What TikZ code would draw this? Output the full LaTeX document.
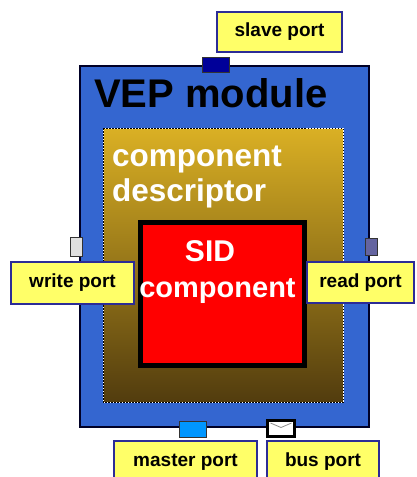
\documentclass[tikz,border=0pt]{standalone}
\usepackage{fontspec}
\setmainfont{Liberation Sans}
\usetikzlibrary{positioning}

\definecolor{modblue}{RGB}{52,102,208}
\definecolor{descgold}{RGB}{218,176,36}
\definecolor{descmid}{RGB}{192,150,30}
\definecolor{descdark}{RGB}{82,60,14}
\definecolor{labyellow}{RGB}{255,255,104}
\definecolor{labline}{RGB}{44,44,150}

\begin{document}
\begin{tikzpicture}[x=1pt, y=-1pt,
    box/.style = {rectangle, inner sep=0pt, outer sep=0pt},
    modbox/.style = {box, fill=modblue, draw=black!85!blue, line width=1.4pt},
    descbox/.style = {box, top color=descgold, middle color=descmid, bottom color=descdark, draw=white, line width=1pt},
    sidbox/.style = {box, fill=red, draw=black, line width=5pt},
    port/.style = {box, draw=black!80, line width=1pt},
    portlabel/.style = {box, fill=labyellow, draw=labline, line width=1.2pt,
        font=\fontsize{19}{21}\selectfont\bfseries},
    bigtext/.style = {inner sep=0pt, font=\fontsize{30}{34}\selectfont\bfseries, text=white}]
\useasboundingbox (0,0) rectangle (417,477);

% module with the descriptor and the component inside
\node (module) [modbox, minimum width=289pt, minimum height=361pt] at (224.5,246.5) {};
\node (desc) [descbox, minimum width=240pt, minimum height=274pt] at (223,265) {};
\draw [black, line width=1pt, dash pattern=on 1.5pt off 1.5pt] (desc.north west) rectangle (desc.south east);
\node (sid) [sidbox, minimum width=164pt, minimum height=143pt] at (222.5,294) {};

\node (modname) [inner sep=0pt, anchor=base west, font=\fontsize{40}{44}\selectfont\bfseries] at (94,107) {VEP module};
\node (desc1) [bigtext, anchor=base west, font=\fontsize{31.5}{34}\selectfont\bfseries] at (112,166) {component};
\node (desc2) [bigtext, anchor=base west, font=\fontsize{31.5}{34}\selectfont\bfseries] at (112,201) {descriptor};
\node (sid1) [bigtext, anchor=base] at (210,261) {SID};
\node (sid2) [bigtext, anchor=base, font=\fontsize{29}{32}\selectfont\bfseries] at (217.5,297) {component};

% ports on the module border
\node (slaveport) [port, fill=blue!60!black, minimum width=27pt, minimum height=15pt] at (215.5,64.5) {};
\node (writeport) [port, fill=black!12, minimum width=12pt, minimum height=19pt] at (76,246.5) {};
\node (readport) [port, fill={rgb,255:red,100;green,100;blue,160}, minimum width=12pt, minimum height=17pt] at (371,246.5) {};
\node (masterport) [port, fill={rgb,255:red,0;green,150;blue,255}, minimum width=27pt, minimum height=16pt] at (192.5,429) {};
\node (busport) [port, fill=white, draw=black, line width=3pt, minimum width=27pt, minimum height=16pt] at (281,428.5) {};
\draw [black!45, line width=0.8pt] ([xshift=3pt,yshift=-2.5pt]busport.north west) -- ([yshift=1pt]busport.center) -- ([xshift=-3pt,yshift=-2.5pt]busport.north east);

% port labels
\node (slavelab) [portlabel, minimum width=125pt, minimum height=40pt] at (279.5,32) {slave port};
\node (writelab) [portlabel, minimum width=123pt, minimum height=42pt] at (72.5,283) {write port};
\node (readlab) [portlabel, minimum width=107pt, minimum height=41pt] at (360.5,282.5) {read port};
\node (masterlab) [portlabel, minimum width=143pt, minimum height=42pt] at (185.5,462) {master port};
\node (buslab) [portlabel, minimum width=112pt, minimum height=42pt] at (323,462) {bus port};

\end{tikzpicture}
\end{document}
